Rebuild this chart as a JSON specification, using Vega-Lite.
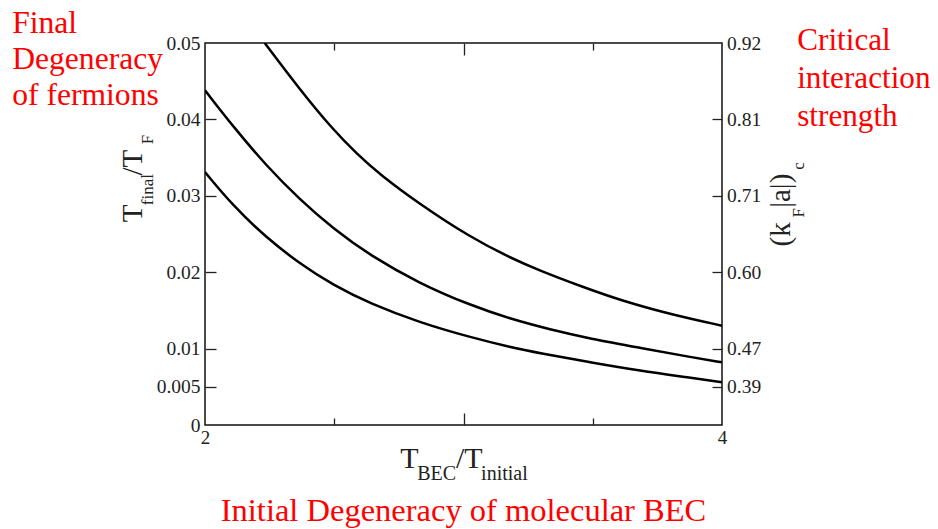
{
  "$schema": "https://vega.github.io/schema/vega-lite/v6.json",
  "width": 517,
  "height": 382,
  "autosize": {"type": "none"},
  "padding": {"left": 205, "top": 43, "right": 216, "bottom": 104},
  "background": "white",
  "config": {
    "view": {"stroke": "#111", "strokeWidth": 1.5},
    "font": "'Liberation Serif', 'Times New Roman', 'DejaVu Serif', serif",
    "axis": {
      "grid": false,
      "domain": false,
      "labelFlush": false,
      "labelOverlap": false,
      "labelFont": "'Liberation Serif', 'Times New Roman', 'DejaVu Serif', serif",
      "titleFont": "'Liberation Serif', 'Times New Roman', 'DejaVu Serif', serif",
      "labelColor": "#222",
      "titleColor": "#222",
      "titleFontWeight": "normal",
      "tickColor": "#222",
      "tickWidth": 1.3
    },
    "title": {"font": "'Liberation Serif', 'Times New Roman', 'DejaVu Serif', serif"}
  },
  "title": {
    "text": "Initial Degeneracy of molecular BEC",
    "orient": "bottom",
    "anchor": "middle",
    "color": "#ff0000",
    "fontSize": 32.5,
    "fontWeight": "normal",
    "offset": 11
  },
  "datasets": {
    "curves": [
      {"series": "A", "x": 2.231, "y": 0.0500},
      {"series": "A", "x": 2.367, "y": 0.0439},
      {"series": "A", "x": 2.494, "y": 0.0387},
      {"series": "A", "x": 2.587, "y": 0.0355},
      {"series": "A", "x": 2.676, "y": 0.0328},
      {"series": "A", "x": 2.831, "y": 0.0289},
      {"series": "A", "x": 3.025, "y": 0.0246},
      {"series": "A", "x": 3.180, "y": 0.0219},
      {"series": "A", "x": 3.296, "y": 0.0202},
      {"series": "A", "x": 3.451, "y": 0.0182},
      {"series": "A", "x": 3.618, "y": 0.0162},
      {"series": "A", "x": 3.812, "y": 0.0144},
      {"series": "A", "x": 4.000, "y": 0.0130},
      {"series": "B", "x": 2.000, "y": 0.0438},
      {"series": "B", "x": 2.108, "y": 0.0391},
      {"series": "B", "x": 2.238, "y": 0.0339},
      {"series": "B", "x": 2.367, "y": 0.0295},
      {"series": "B", "x": 2.496, "y": 0.0257},
      {"series": "B", "x": 2.638, "y": 0.0222},
      {"series": "B", "x": 2.831, "y": 0.0185},
      {"series": "B", "x": 3.025, "y": 0.0157},
      {"series": "B", "x": 3.180, "y": 0.0139},
      {"series": "B", "x": 3.335, "y": 0.0125},
      {"series": "B", "x": 3.490, "y": 0.0113},
      {"series": "B", "x": 3.683, "y": 0.0101},
      {"series": "B", "x": 3.877, "y": 0.0089},
      {"series": "B", "x": 4.000, "y": 0.0082},
      {"series": "C", "x": 2.000, "y": 0.0331},
      {"series": "C", "x": 2.108, "y": 0.0287},
      {"series": "C", "x": 2.238, "y": 0.0245},
      {"series": "C", "x": 2.367, "y": 0.0211},
      {"series": "C", "x": 2.496, "y": 0.0183},
      {"series": "C", "x": 2.638, "y": 0.0159},
      {"series": "C", "x": 2.831, "y": 0.0134},
      {"series": "C", "x": 3.025, "y": 0.0115},
      {"series": "C", "x": 3.180, "y": 0.0102},
      {"series": "C", "x": 3.296, "y": 0.0094},
      {"series": "C", "x": 3.490, "y": 0.0082},
      {"series": "C", "x": 3.683, "y": 0.0071},
      {"series": "C", "x": 3.877, "y": 0.0062},
      {"series": "C", "x": 4.000, "y": 0.0056}
    ]
  },
  "layer": [
    {
      "data": {"name": "curves"},
      "mark": {"type": "line", "color": "black", "strokeWidth": 2.5, "interpolate": "basis", "clip": true},
      "encoding": {
        "detail": {"field": "series", "type": "nominal"},
        "x": {
          "field": "x", "type": "quantitative",
          "scale": {"domain": [2, 4], "nice": false, "zero": false},
          "axis": {
            "orient": "bottom", "values": [2, 3, 4], "ticks": false,
            "labelFontSize": 19, "labelPadding": 3, "labelBaseline": "top", "labelAlign": "center", "format": "d",
            "title": "T\u00a0\u00a0\u00a0\u00a0\u00a0/T", "titleFontSize": 30,
            "titleX": 194.7, "titleY": 42.5, "titleAlign": "left", "titleBaseline": "alphabetic", "titleAngle": 0
          }
        },
        "y": {
          "field": "y", "type": "quantitative",
          "scale": {"domain": [0, 0.05], "nice": false, "zero": false},
          "axis": {
            "orient": "left", "values": [0, 0.005, 0.01, 0.02, 0.03, 0.04, 0.05], "ticks": false,
            "labelFontSize": 19.5, "labelPadding": 5, "labelBaseline": "middle", "format": "~g",
            "title": "T\u00a0\u00a0\u00a0\u00a0/T", "titleFontSize": 29, "titleAngle": 270,
            "titleX": -63.3, "titleY": 178.7, "titleAlign": "left", "titleBaseline": "alphabetic"
          }
        }
      }
    },
    {
      "data": {"values": []},
      "mark": {"type": "line"},
      "encoding": {
        "x": {
          "field": "x", "type": "quantitative",
          "scale": {"domain": [2, 4], "nice": false, "zero": false},
          "axis": {
            "orient": "top", "values": [2.5, 3, 3.5], "labels": false, "ticks": true,
            "tickSize": {"condition": {"test": "datum.value === 3", "value": -12}, "value": -7},
            "title": ["Final", "Degeneracy", "of fermions"], "titleColor": "#ff0000", "titleFontSize": 31.6,
            "titleLineHeight": 36, "titleX": -193.3, "titleY": -10.3, "titleAlign": "left",
            "titleBaseline": "alphabetic", "titleAngle": 0
          }
        },
        "y": {
          "field": "y", "type": "quantitative",
          "scale": {"domain": [0, 0.05], "nice": false, "zero": false},
          "axis": {
            "orient": "right", "values": [0.005, 0.01, 0.02, 0.03, 0.04, 0.05], "ticks": false,
            "labelFontSize": 19.5, "labelPadding": 4.5, "labelAlign": "left", "labelBaseline": "middle",
            "labelExpr": "datum.value == 0.05 ? '0.92' : datum.value == 0.04 ? '0.81' : datum.value == 0.03 ? '0.71' : datum.value == 0.02 ? '0.60' : datum.value == 0.01 ? '0.47' : '0.39'",
            "title": "(k\u00a0\u00a0|a|)", "titleFontSize": 29, "titleAngle": 270,
            "titleX": 67.7, "titleY": 203, "titleAlign": "left", "titleBaseline": "alphabetic"
          }
        }
      }
    },
    {
      "data": {"values": []},
      "mark": {"type": "line"},
      "encoding": {
        "x": {
          "field": "x", "type": "quantitative",
          "scale": {"domain": [2, 4], "nice": false, "zero": false},
          "axis": {
            "orient": "bottom", "values": [2.5, 3, 3.5], "labels": false, "ticks": true,
            "tickSize": {"condition": {"test": "datum.value === 3", "value": -12}, "value": -7},
            "title": "BEC\u00a0\u00a0\u00a0\u00a0\u00a0initial", "titleFontSize": 20,
            "titleX": 211.7, "titleY": 54.5, "titleAlign": "left", "titleBaseline": "alphabetic", "titleAngle": 0
          }
        },
        "y": {
          "field": "y", "type": "quantitative",
          "scale": {"domain": [0, 0.05], "nice": false, "zero": false},
          "axis": {
            "orient": "left", "values": [0.005, 0.01, 0.02, 0.03, 0.04], "labels": false, "ticks": true,
            "tickSize": -11,
            "title": "final\u00a0\u00a0\u00a0\u00a0\u00a0\u00a0\u00a0F", "titleFontSize": 17, "titleAngle": 270,
            "titleX": -52.3, "titleY": 161.7, "titleAlign": "left", "titleBaseline": "alphabetic"
          }
        }
      }
    },
    {
      "data": {"values": []},
      "mark": {"type": "line"},
      "encoding": {
        "x": {
          "field": "x", "type": "quantitative",
          "scale": {"domain": [2, 4], "nice": false, "zero": false},
          "axis": {
            "orient": "top", "labels": false, "ticks": false,
            "title": ["Critical", "interaction", "strength"], "titleColor": "#ff0000", "titleFontSize": 31.2,
            "titleLineHeight": 38, "titleX": 591.7, "titleY": 6.7, "titleAlign": "left",
            "titleBaseline": "alphabetic", "titleAngle": 0
          }
        },
        "y": {
          "field": "y", "type": "quantitative",
          "scale": {"domain": [0, 0.05], "nice": false, "zero": false},
          "axis": {
            "orient": "right", "values": [0.005, 0.01, 0.02, 0.03, 0.04], "labels": false, "ticks": true,
            "tickSize": -10,
            "title": "F\u00a0\u00a0\u00a0\u00a0\u00a0\u00a0\u00a0\u00a0\u00a0c", "titleFontSize": 17, "titleAngle": 270,
            "titleX": 81.7, "titleY": 174, "titleAlign": "left", "titleBaseline": "alphabetic"
          }
        }
      }
    }
  ],
  "resolve": {
    "scale": {"x": "independent", "y": "independent"},
    "axis": {"x": "independent", "y": "independent"}
  }
}
